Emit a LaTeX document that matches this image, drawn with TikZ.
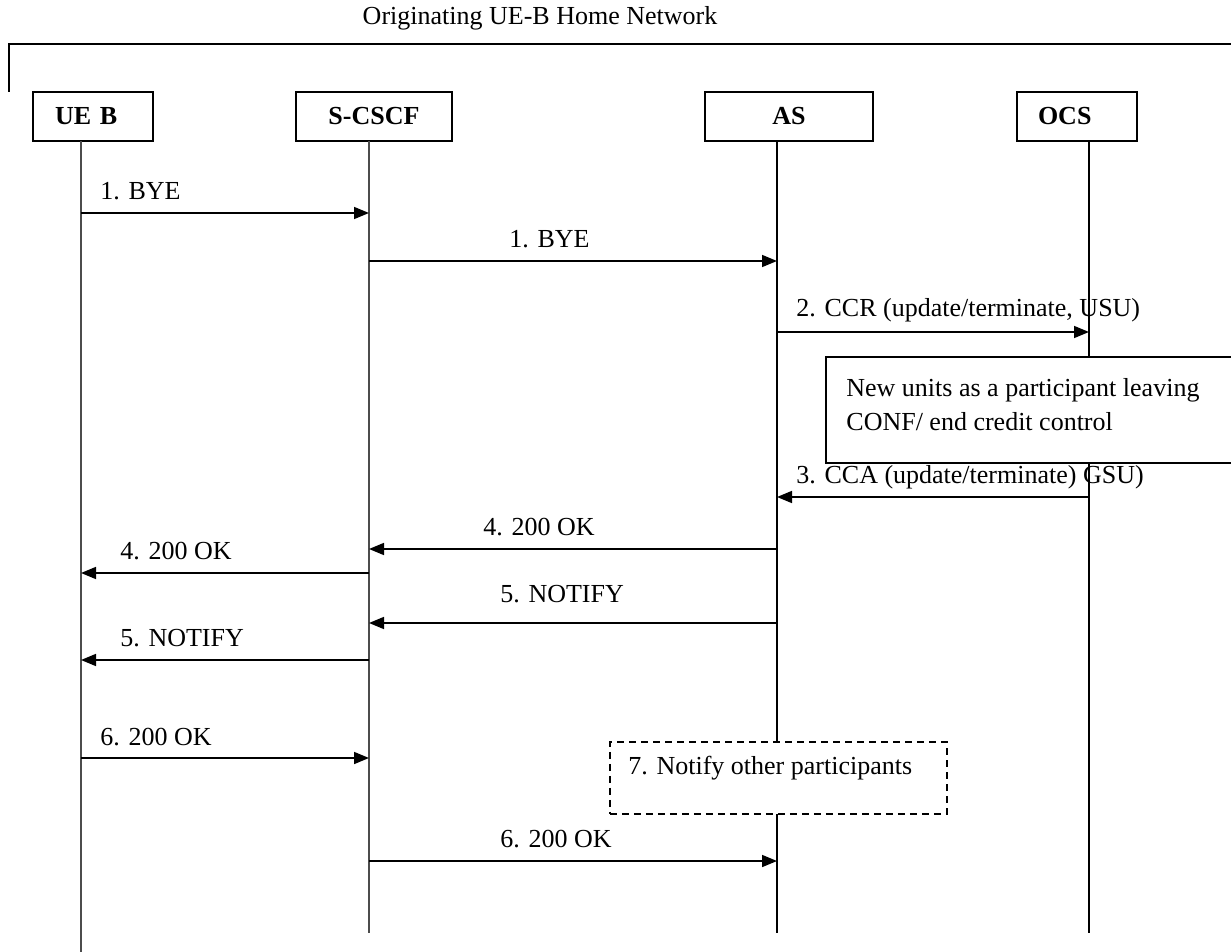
\documentclass[tikz,border=0pt]{standalone}
\usepackage{fontspec}
\setmainfont{Liberation Serif}
\usetikzlibrary{arrows.meta}
\begin{document}
\begin{tikzpicture}[x=0.5pt,y=-0.5pt,
  every node/.style={font=\fontsize{13}{16}\selectfont},
  entity/.style={draw=black,line width=1pt,rectangle,inner ysep=0pt,minimum height=24.5pt,font=\fontsize{13}{16}\selectfont\bfseries},
  lifeg/.style={draw=black!70,line width=0.9pt},
  lifeb/.style={draw=black,line width=0.8pt},
  msg/.style={draw=black,line width=0.8pt,-{Triangle[length=7.5pt,width=6pt]}},
  lbl/.style={anchor=west,inner sep=0pt},
  notebox/.style={draw=black,line width=1pt,fill=white,rectangle},
  dbox/.style={draw=black,line width=0.8pt,dash pattern=on 3.5pt off 2.5pt,fill=white,rectangle}
]
\useasboundingbox (0,0) rectangle (1231,952);
% title and bracket
\node (title) at (540,18) {Originating UE-B Home Network};
\coordinate (brA) at (9,92);
\coordinate (brB) at (9,44);
\coordinate (brC) at (1231,44);
\draw[line width=1pt] (brA) -- (brB) -- (brC);
% entities
\node[entity,inner xsep=11pt,text width=38pt,align=left] (ue) at (93,116.5) {UE B};
\node[entity,inner xsep=0pt,minimum width=78pt] (sc) at (374,116.5) {S-CSCF};
\node[entity,inner xsep=0pt,minimum width=84pt] (as) at (789,116.5) {AS};
\node[entity,inner xsep=10.5pt,text width=39pt,align=left] (ocs) at (1077,116.5) {OCS};
% lifeline ends
\coordinate (ueT) at (81,141);   \coordinate (ueE) at (81,952);
\coordinate (scT) at (369,141);  \coordinate (scE) at (369,933);
\coordinate (asT) at (777,141);  \coordinate (asE) at (777,933);
\coordinate (ocT) at (1089,141); \coordinate (ocE) at (1089,933);
\draw[lifeg] (ueT) -- (ueE);
\draw[lifeg] (scT) -- (scE);
\draw[lifeb] (asT) -- (asE);
\draw[lifeb] (ocT) -- (ocE);
% messages
\draw[msg] (ueT |- 0,213) -- (scT |- 0,213);
\node[lbl] (l1) at (100,191) {1. BYE};
\draw[msg] (scT |- 0,261) -- (asT |- 0,261);
\node[lbl] (l1b) at (509,239) {1. BYE};
\draw[msg] (asT |- 0,332) -- (ocT |- 0,332);
\node[lbl] (l2) at (796,310) {2. CCR (update/terminate, USU)};
% note box
\node[notebox,minimum width=203pt,minimum height=53pt,anchor=north west] (note) at (825,356) {};
\node[anchor=north west,align=left,inner sep=0pt,font=\fontsize{13}{17}\selectfont] (notet) at (846,378) {New units as a participant leaving\\CONF/ end credit control};
\draw[msg] (ocT |- 0,497) -- (asT |- 0,497);
\node[lbl] (l3) at (796,477) {3. CCA (update/terminate) GSU)};
\draw[msg] (asT |- 0,549) -- (scT |- 0,549);
\node[lbl] (l4) at (483,527) {4. 200 OK};
\draw[msg] (scT |- 0,573) -- (ueT |- 0,573);
\node[lbl] (l4b) at (120,551) {4. 200 OK};
\draw[msg] (asT |- 0,623) -- (scT |- 0,623);
\node[lbl] (l5) at (500,594) {5. NOTIFY};
\draw[msg] (scT |- 0,660) -- (ueT |- 0,660);
\node[lbl] (l5b) at (120,638) {5. NOTIFY};
% dashed box
\node[dbox,minimum width=168.5pt,minimum height=36pt,anchor=north west] (nb) at (609,741) {};
\node[lbl] (nbt) at (628,768) {7. Notify other participants};
\draw[msg] (ueT |- 0,758) -- (scT |- 0,758);
\node[lbl] (l6) at (100,737) {6. 200 OK};
\draw[msg] (scT |- 0,861) -- (asT |- 0,861);
\node[lbl] (l6b) at (500,839) {6. 200 OK};
\end{tikzpicture}
\end{document}
